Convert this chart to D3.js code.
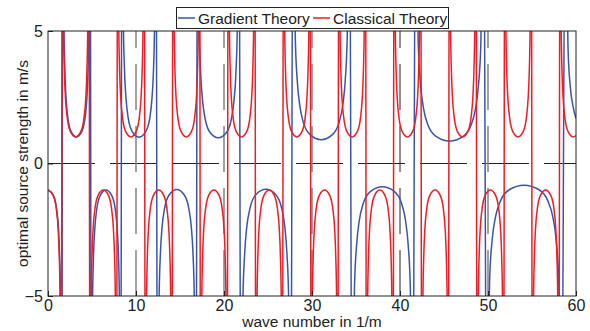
<!DOCTYPE html>
<html>
<head>
<meta charset="utf-8">
<script src="https://cdn.jsdelivr.net/npm/d3@7"></script>
<style>
  body { margin: 0; background: #fff; }
  text { font-family: "Liberation Sans", Arial, sans-serif; fill: #222; }
</style>
</head>
<body>
<div id="chart"></div>
<script>
// tick values / labels
const xTicks = [0, 10, 20, 30, 40, 50, 60];
const yTicks = [-5, 0, 5];
const refLines = [10, 20, 30, 40, 50];
const seriesNames = ['Gradient Theory', 'Classical Theory'];

// Gradient theory: [wave number, strength]
const gradientTheory = [
  [[0, -1], [0.62, -1.21], [0.98, -1.72], [1.19, -2.46], [1.32, -3.49], [1.43, -5.3], [1.55, -14.1]],
  [[1.69, 14.1], [1.81, 5.3], [1.92, 3.49], [2.05, 2.46], [2.26, 1.72], [2.62, 1.21], [3.24, 1], [3.85, 1.21], [4.21, 1.72], [4.42, 2.46], [4.55, 3.49], [4.66, 5.3], [4.78, 14.1]],
  [[4.93, -14.1], [5.06, -5.3], [5.17, -3.49], [5.32, -2.46], [5.54, -1.72], [5.93, -1.21], [6.59, -1], [7.25, -1.21], [7.64, -1.72], [7.86, -2.46], [8.01, -3.49], [8.12, -5.3], [8.25, -14.1]],
  [[8.42, 14], [8.57, 5.25], [8.70, 3.46], [8.87, 2.44], [9.12, 1.70], [9.58, 1.20], [10.34, 0.99], [11.10, 1.20], [11.56, 1.70], [11.81, 2.44], [11.98, 3.46], [12.11, 5.25], [12.26, 14]],
  [[12.45, -13.8], [12.62, -5.19], [12.77, -3.42], [12.96, -2.41], [13.25, -1.69], [13.76, -1.19], [14.63, -0.98], [15.49, -1.19], [16.00, -1.69], [16.29, -2.41], [16.48, -3.42], [16.63, -5.19], [16.80, -13.8]],
  [[17.01, 13.7], [17.19, 5.14], [17.35, 3.39], [17.56, 2.39], [17.87, 1.67], [18.42, 1.17], [19.35, 0.97], [20.28, 1.17], [20.83, 1.67], [21.14, 2.39], [21.35, 3.39], [21.51, 5.14], [21.69, 13.7]],
  [[21.93, -13.7], [22.15, -5.14], [22.35, -3.39], [22.59, -2.39], [22.97, -1.67], [23.63, -1.17], [24.75, -0.97], [25.87, -1.17], [26.54, -1.67], [26.91, -2.39], [27.15, -3.39], [27.35, -5.14], [27.57, -13.7]],
  [[27.85, 12.7], [28.10, 4.77], [28.32, 3.14], [28.60, 2.21], [29.02, 1.55], [29.78, 1.09], [31.05, 0.9], [32.32, 1.09], [33.08, 1.55], [33.50, 2.21], [33.78, 3.14], [34.00, 4.77], [34.25, 12.7]],
  [[34.56, -12.4], [34.83, -4.66], [35.07, -3.07], [35.37, -2.16], [35.82, -1.51], [36.63, -1.06], [38.00, -0.88], [39.37, -1.06], [40.18, -1.51], [40.63, -2.16], [40.93, -3.07], [41.17, -4.66], [41.44, -12.4]],
  [[41.78, 11.8], [42.08, 4.45], [42.35, 2.93], [42.68, 2.07], [43.19, 1.44], [44.10, 1.02], [45.63, 0.84], [47.16, 1.02], [48.07, 1.44], [48.58, 2.07], [48.91, 2.93], [49.18, 4.45], [49.48, 11.8]],
  [[49.86, -11.6], [50.19, -4.35], [50.48, -2.86], [50.85, -2.02], [51.42, -1.41], [52.42, -0.99], [54.11, -0.82], [55.80, -0.99], [56.80, -1.41], [57.37, -2.02], [57.74, -2.86], [58.03, -4.35], [58.36, -11.6]],
  [[58.79, 11.3], [59.10, 4.3], [59.35, 2.9], [59.70, 2.1], [60, 1.7]]
];

// Classical theory, same layout
const classicalTheory = [
  [[0, -1], [0.6, -1.21], [0.95, -1.72], [1.15, -2.45], [1.28, -3.49], [1.38, -5.27], [1.5, -14.1]],
  [[1.64, 14.1], [1.76, 5.27], [1.86, 3.49], [1.99, 2.45], [2.19, 1.72], [2.54, 1.21], [3.14, 1], [3.74, 1.21], [4.09, 1.72], [4.29, 2.45], [4.42, 3.49], [4.52, 5.27], [4.64, 14.1]],
  [[4.78, -14.1], [4.90, -5.27], [5.00, -3.49], [5.13, -2.45], [5.33, -1.72], [5.68, -1.21], [6.28, -1], [6.88, -1.21], [7.23, -1.72], [7.43, -2.45], [7.56, -3.49], [7.66, -5.27], [7.78, -14.1]],
  [[7.92, 14.1], [8.04, 5.27], [8.14, 3.49], [8.27, 2.45], [8.47, 1.72], [8.82, 1.21], [9.42, 1], [10.02, 1.21], [10.37, 1.72], [10.57, 2.45], [10.70, 3.49], [10.80, 5.27], [10.92, 14.1]],
  [[11.07, -14.1], [11.19, -5.27], [11.29, -3.49], [11.42, -2.45], [11.62, -1.72], [11.97, -1.21], [12.57, -1], [13.17, -1.21], [13.52, -1.72], [13.72, -2.45], [13.85, -3.49], [13.95, -5.27], [14.07, -14.1]],
  [[14.21, 14.1], [14.33, 5.27], [14.43, 3.49], [14.56, 2.45], [14.76, 1.72], [15.11, 1.21], [15.71, 1], [16.31, 1.21], [16.66, 1.72], [16.86, 2.45], [16.99, 3.49], [17.09, 5.27], [17.21, 14.1]],
  [[17.35, -14.1], [17.47, -5.27], [17.57, -3.49], [17.70, -2.45], [17.90, -1.72], [18.25, -1.21], [18.85, -1], [19.45, -1.21], [19.80, -1.72], [20.00, -2.45], [20.13, -3.49], [20.23, -5.27], [20.35, -14.1]],
  [[20.49, 14.1], [20.61, 5.27], [20.71, 3.49], [20.84, 2.45], [21.04, 1.72], [21.39, 1.21], [21.99, 1], [22.59, 1.21], [22.94, 1.72], [23.14, 2.45], [23.27, 3.49], [23.37, 5.27], [23.49, 14.1]],
  [[23.63, -14.1], [23.75, -5.27], [23.85, -3.49], [23.98, -2.45], [24.18, -1.72], [24.53, -1.21], [25.13, -1], [25.73, -1.21], [26.08, -1.72], [26.28, -2.45], [26.41, -3.49], [26.51, -5.27], [26.63, -14.1]],
  [[26.77, 14.1], [26.89, 5.27], [26.99, 3.49], [27.12, 2.45], [27.32, 1.72], [27.67, 1.21], [28.27, 1], [28.87, 1.21], [29.22, 1.72], [29.42, 2.45], [29.55, 3.49], [29.65, 5.27], [29.77, 14.1]],
  [[29.92, -14.1], [30.04, -5.27], [30.14, -3.49], [30.27, -2.45], [30.47, -1.72], [30.82, -1.21], [31.42, -1], [32.02, -1.21], [32.37, -1.72], [32.57, -2.45], [32.70, -3.49], [32.80, -5.27], [32.92, -14.1]],
  [[33.06, 14.1], [33.18, 5.27], [33.28, 3.49], [33.41, 2.45], [33.61, 1.72], [33.96, 1.21], [34.56, 1], [35.16, 1.21], [35.51, 1.72], [35.71, 2.45], [35.84, 3.49], [35.94, 5.27], [36.06, 14.1]],
  [[36.20, -14.1], [36.32, -5.27], [36.42, -3.49], [36.55, -2.45], [36.75, -1.72], [37.10, -1.21], [37.70, -1], [38.30, -1.21], [38.65, -1.72], [38.85, -2.45], [38.98, -3.49], [39.08, -5.27], [39.20, -14.1]],
  [[39.34, 14.1], [39.46, 5.27], [39.56, 3.49], [39.69, 2.45], [39.89, 1.72], [40.24, 1.21], [40.84, 1], [41.44, 1.21], [41.79, 1.72], [41.99, 2.45], [42.12, 3.49], [42.22, 5.27], [42.34, 14.1]],
  [[42.48, -14.1], [42.60, -5.27], [42.70, -3.49], [42.83, -2.45], [43.03, -1.72], [43.38, -1.21], [43.98, -1], [44.58, -1.21], [44.93, -1.72], [45.13, -2.45], [45.26, -3.49], [45.36, -5.27], [45.48, -14.1]],
  [[45.62, 14.1], [45.74, 5.27], [45.84, 3.49], [45.97, 2.45], [46.17, 1.72], [46.52, 1.21], [47.12, 1], [47.72, 1.21], [48.07, 1.72], [48.27, 2.45], [48.40, 3.49], [48.50, 5.27], [48.62, 14.1]],
  [[48.77, -14.1], [48.89, -5.27], [48.99, -3.49], [49.12, -2.45], [49.32, -1.72], [49.67, -1.21], [50.27, -1], [50.87, -1.21], [51.22, -1.72], [51.42, -2.45], [51.55, -3.49], [51.65, -5.27], [51.77, -14.1]],
  [[51.91, 14.1], [52.03, 5.27], [52.13, 3.49], [52.26, 2.45], [52.46, 1.72], [52.81, 1.21], [53.41, 1], [54.01, 1.21], [54.36, 1.72], [54.56, 2.45], [54.69, 3.49], [54.79, 5.27], [54.91, 14.1]],
  [[55.05, -14.1], [55.17, -5.27], [55.27, -3.49], [55.40, -2.45], [55.60, -1.72], [55.95, -1.21], [56.55, -1], [57.15, -1.21], [57.50, -1.72], [57.70, -2.45], [57.83, -3.49], [57.93, -5.27], [58.05, -14.1]],
  [[58.19, 14.1], [58.31, 5.27], [58.41, 3.49], [58.54, 2.45], [58.74, 1.72], [59.09, 1.21], [59.69, 1], [60, 1.05]]
];

const colors = ['#3a55a8', '#ee1d25'];

const W = 590, H = 331;
const margin = { left: 48, top: 31, right: 14, bottom: 35 };
const width = W - margin.left - margin.right;
const height = H - margin.top - margin.bottom;

const svg = d3.select('#chart').append('svg')
  .attr('width', W)
  .attr('height', H);

svg.append('defs').append('clipPath')
  .attr('id', 'plot-clip')
  .append('rect')
  .attr('width', width)
  .attr('height', height);

const g = svg.append('g')
  .attr('transform', 'translate(' + margin.left + ',' + margin.top + ')');

const x = d3.scaleLinear().domain([0, 60]).range([0, width]);
const y = d3.scaleLinear().domain([-5, 5]).range([height, 0]);

const plot = g.append('g').attr('clip-path', 'url(#plot-clip)');

// dashed reference lines
plot.append('line')
  .attr('x1', x(0)).attr('x2', x(60))
  .attr('y1', y(0)).attr('y2', y(0))
  .attr('stroke', '#222')
  .attr('stroke-width', 1)
  .attr('stroke-dasharray', '47,15');

plot.selectAll('line.ref')
  .data(refLines)
  .enter().append('line')
  .attr('class', 'ref')
  .attr('x1', d => x(d)).attr('x2', d => x(d))
  .attr('y1', y(-5)).attr('y2', y(5))
  .attr('stroke', d => d === 40 ? '#222' : '#8a8a8a')
  .attr('stroke-width', d => d === 40 ? 1 : 1.6)
  .attr('stroke-dasharray', '46,16');

const line = d3.line()
  .x(d => x(d[0]))
  .y(d => y(d[1]))
  .curve(d3.curveMonotoneX);

[gradientTheory, classicalTheory].forEach((branches, i) => {
  plot.append('path')
    .datum(branches.flat())
    .attr('fill', 'none')
    .attr('stroke', colors[i])
    .attr('stroke-width', 1.5)
    .attr('d', line);
});

// axes box
g.append('rect')
  .attr('width', width)
  .attr('height', height)
  .attr('fill', 'none')
  .attr('stroke', '#222')
  .attr('stroke-width', 1);

const xAxis = d3.axisBottom(x).tickValues(xTicks).tickSizeInner(-5).tickSizeOuter(0).tickPadding(4);
const yAxis = d3.axisLeft(y).tickValues(yTicks).tickSizeInner(-5).tickSizeOuter(0).tickPadding(5);

g.append('g')
  .attr('transform', 'translate(0,' + height + ')')
  .call(xAxis)
  .call(s => s.select('.domain').remove())
  .call(s => s.selectAll('text').attr('font-size', 16).attr('fill', '#222').attr('font-family', '"Liberation Sans", Arial, sans-serif'));

g.append('g')
  .call(yAxis)
  .call(s => s.select('.domain').remove())
  .call(s => s.selectAll('text').attr('font-size', 16).attr('fill', '#222').attr('font-family', '"Liberation Sans", Arial, sans-serif'));

g.selectAll('.tick line').attr('stroke', '#222');

// axis titles
svg.append('text')
  .attr('x', margin.left + width / 2)
  .attr('y', 327)
  .attr('text-anchor', 'middle')
  .attr('font-size', 15.5)
  .text('wave number in 1/m');

svg.append('text')
  .attr('transform', 'translate(28,' + (margin.top + height / 2) + ') rotate(-90)')
  .attr('text-anchor', 'middle')
  .attr('font-size', 15.5)
  .text('optimal source strength in m/s');

// legend
const legend = svg.append('g');
legend.append('rect')
  .attr('x', 176.5).attr('y', 7.5)
  .attr('width', 272).attr('height', 21)
  .attr('fill', '#fff')
  .attr('stroke', '#222');

const legendX = [178, 313];
seriesNames.forEach((name, i) => {
  legend.append('line')
    .attr('x1', legendX[i]).attr('x2', legendX[i] + 17)
    .attr('y1', 18).attr('y2', 18)
    .attr('stroke', colors[i])
    .attr('stroke-width', 1.5);
  legend.append('text')
    .attr('x', legendX[i] + 20)
    .attr('y', 23.5)
    .attr('font-size', 15.5)
    .text(name);
});
</script>
</body>
</html>
